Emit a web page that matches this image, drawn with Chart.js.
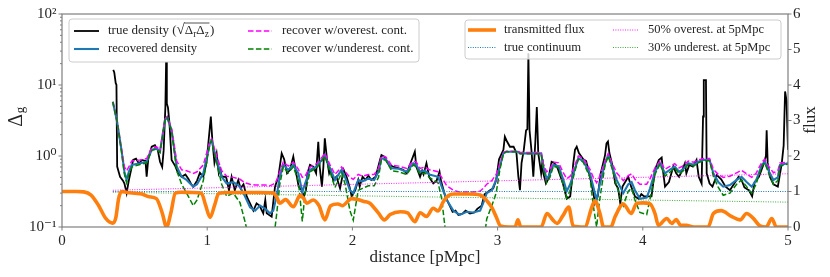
<!DOCTYPE html>
<html><head><meta charset="utf-8">
<script src="https://cdn.jsdelivr.net/npm/chart.js@4"></script>
<style>html,body{margin:0;padding:0;background:#fff}canvas{display:block}</style>
</head><body>
<canvas id="c" width="830" height="277" style="width:830px;height:277px"></canvas>
<script>
// ---------- data ----------
const trueDist = [0.353,0.36,0.37,0.375,0.38,0.39,0.40,0.42,0.43,0.445,0.46,0.48,0.49,0.51,0.53,0.55,0.575,0.583,0.595,0.618,0.64,0.66,0.675,0.69,0.70,0.712,0.717,0.722,0.73,0.74,0.755,0.78,0.80,0.824,0.85,0.87,0.89,0.904,0.93,0.95,0.973,0.995,1.01,1.025,1.035,1.05,1.065,1.08,1.09,1.10,1.13,1.15,1.168,1.19,1.214,1.23,1.25,1.272,1.295,1.318,1.34,1.36,1.386,1.40,1.41,1.444,1.467,1.49,1.50,1.513,1.53,1.55,1.57,1.593,1.605,1.63,1.65,1.665,1.68,1.69,1.708,1.73,1.75,1.765,1.775,1.79,1.80,1.81,1.825,1.84,1.85,1.868,1.89,1.915,1.94,1.96,1.98,1.995,2.02,2.04,2.05,2.07,2.09,2.11,2.13,2.16,2.19,2.20,2.22,2.25,2.28,2.31,2.35,2.374,2.40,2.43,2.44,2.466,2.48,2.49,2.51,2.53,2.557,2.58,2.60,2.61,2.64,2.67,2.69,2.71,2.73,2.76,2.78,2.81,2.84,2.86,2.89,2.91,2.948,2.97,2.99,3.01,3.04,3.05,3.065,3.085,3.11,3.13,3.143,3.154,3.165,3.18,3.196,3.205,3.212,3.22,3.235,3.246,3.26,3.27,3.28,3.30,3.31,3.315,3.333,3.35,3.372,3.39,3.41,3.45,3.476,3.50,3.51,3.52,3.533,3.545,3.56,3.59,3.61,3.636,3.66,3.67,3.69,3.71,3.74,3.75,3.76,3.77,3.79,3.81,3.83,3.845,3.86,3.90,3.92,3.946,3.97,3.99,4.01,4.04,4.06,4.084,4.11,4.13,4.14,4.153,4.18,4.21,4.23,4.25,4.27,4.29,4.30,4.32,4.345,4.37,4.385,4.405,4.415,4.42,4.435,4.44,4.46,4.48,4.51,4.54,4.57,4.60,4.63,4.66,4.68,4.70,4.73,4.753,4.77,4.80,4.83,4.848,4.853,4.86,4.875,4.90,4.93,4.957,4.97,4.98,4.99,5.0];
const trueDensity = [16.3,15,10.6,10,0.71,0.6,0.51,0.45,0.41,0.30,0.45,0.7,0.88,0.92,0.78,0.88,0.85,0.51,0.95,1.35,1.42,1.2,0.83,0.7,1.2,4.9,21,5.5,4.8,2.9,0.88,0.72,0.57,0.51,0.55,0.48,0.4,0.37,0.45,0.58,0.51,0.8,1.68,3.6,1.7,0.8,1.09,0.57,0.65,0.51,0.51,0.33,0.51,0.33,0.46,0.35,0.4,0.27,0.215,0.17,0.215,0.2,0.156,0.24,0.156,0.14,0.37,0.51,0.71,1.09,0.9,0.57,0.64,0.98,0.7,0.37,0.33,0.27,0.33,0.57,0.75,0.71,0.57,1.59,0.7,0.37,0.7,1.77,0.9,0.57,0.64,0.46,0.51,0.35,0.64,0.51,0.37,0.27,0.33,0.46,0.37,0.51,0.46,0.53,0.46,0.51,0.88,1.03,0.98,0.75,0.71,0.68,0.64,0.57,0.79,1.15,0.71,0.51,0.62,0.55,0.79,0.5,0.41,0.45,0.6,0.45,0.27,0.2,0.164,0.17,0.148,0.155,0.17,0.155,0.16,0.18,0.2,0.29,0.33,0.35,0.46,0.9,1.22,1.87,1.6,1.35,1.35,1.1,0.51,0.33,0.8,1.2,2.3,2.4,28,2.3,1.1,0.51,1.6,4.9,1.1,0.57,0.9,0.57,0.41,0.48,0.83,0.8,0.7,0.41,0.25,0.27,0.41,0.75,1.22,1.35,1.1,0.9,0.85,0.51,0.3,0.215,0.27,0.57,1.03,1.51,1.6,1.1,0.75,0.41,0.35,0.215,0.37,0.51,0.37,0.27,0.25,0.29,0.27,0.27,0.27,0.64,0.88,0.95,0.6,0.37,0.43,0.71,0.57,0.51,0.62,0.79,0.57,0.75,0.71,0.88,0.51,0.41,3.6,11.7,11.7,0.57,0.41,0.37,0.54,0.47,0.37,0.33,0.41,0.51,0.46,0.36,0.33,0.27,0.43,0.51,0.75,1.0,2.3,0.8,0.51,0.4,0.37,0.79,1.4,8.1,6,1.22];

const recDist = [0.35,0.38,0.41,0.43,0.445,0.46,0.48,0.537,0.583,0.618,0.652,0.675,0.709,0.725,0.755,0.79,0.824,0.858,0.904,0.93,0.973,1.019,1.03,1.065,1.10,1.134,1.18,1.226,1.26,1.295,1.33,1.364,1.40,1.432,1.455,1.478,1.50,1.524,1.558,1.593,1.628,1.655,1.674,1.708,1.754,1.789,1.81,1.846,1.88,1.926,1.95,1.983,2.006,2.04,2.07,2.11,2.15,2.18,2.20,2.23,2.27,2.32,2.374,2.42,2.44,2.466,2.50,2.53,2.59,2.615,2.65,2.695,2.74,2.787,2.83,2.88,2.90,2.925,2.96,2.99,3.016,3.04,3.06,3.14,3.155,3.30,3.315,3.337,3.36,3.384,3.42,3.453,3.476,3.50,3.533,3.556,3.59,3.636,3.659,3.682,3.70,3.74,3.762,3.79,3.82,3.866,3.90,3.923,3.946,3.98,4.027,4.05,4.084,4.118,4.153,4.19,4.22,4.25,4.28,4.313,4.35,4.382,4.417,4.46,4.486,4.52,4.554,4.60,4.646,4.68,4.715,4.75,4.78,4.82,4.84,4.87,4.90,4.93,4.945,5.0];
const recDensity = [5.8,3.0,1.2,0.6,0.46,0.6,0.75,0.79,0.83,1.22,1.28,1.15,3.2,3.5,2.3,0.71,0.51,0.46,0.37,0.4,0.57,1.51,1.68,0.88,0.51,0.41,0.43,0.37,0.27,0.19,0.17,0.2,0.18,0.156,0.17,0.27,0.51,0.75,0.64,0.75,0.57,0.31,0.41,0.64,0.71,0.88,1.03,0.67,0.46,0.64,0.5,0.33,0.30,0.46,0.44,0.48,0.46,0.60,0.93,0.9,0.67,0.66,0.6,0.79,0.75,0.6,0.62,0.55,0.51,0.37,0.24,0.17,0.148,0.164,0.16,0.17,0.215,0.30,0.33,0.46,0.71,1.09,1.15,1.15,1.09,1.09,0.71,0.48,0.55,0.75,0.72,0.46,0.32,0.4,0.67,0.93,0.85,0.57,0.37,0.24,0.37,0.79,1.03,0.7,0.46,0.30,0.4,0.43,0.33,0.25,0.26,0.35,0.6,0.79,0.57,0.65,0.71,0.6,0.66,0.79,0.75,0.83,0.88,0.88,0.57,0.43,0.37,0.39,0.46,0.51,0.43,0.37,0.45,0.75,0.83,0.6,0.46,0.5,0.75,0.79];
const overDensity = [5.8,3.0,1.25,0.7,0.62,0.7,0.85,0.88,0.92,1.3,1.35,1.2,3.3,3.6,2.4,0.85,0.64,0.62,0.57,0.6,0.75,1.6,1.75,1.0,0.62,0.52,0.5,0.47,0.42,0.40,0.39,0.39,0.39,0.38,0.40,0.45,0.6,0.82,0.72,0.82,0.65,0.5,0.52,0.7,0.78,0.95,1.1,0.75,0.55,0.7,0.6,0.5,0.47,0.55,0.52,0.55,0.55,0.67,1.0,0.97,0.74,0.72,0.67,0.85,0.82,0.67,0.7,0.64,0.6,0.5,0.38,0.33,0.31,0.31,0.31,0.32,0.35,0.4,0.45,0.55,0.78,1.12,1.17,1.17,1.12,1.12,0.78,0.6,0.65,0.82,0.8,0.58,0.48,0.52,0.75,1.0,0.92,0.65,0.5,0.42,0.5,0.85,1.08,0.78,0.58,0.45,0.53,0.56,0.47,0.4,0.4,0.48,0.68,0.85,0.65,0.72,0.78,0.68,0.73,0.85,0.82,0.88,0.92,0.92,0.65,0.55,0.5,0.52,0.58,0.63,0.56,0.5,0.57,0.82,0.9,0.7,0.58,0.62,0.8,0.82];
const underDensity = [5.8,3.0,1.15,0.55,0.42,0.55,0.7,0.76,0.8,1.2,1.25,1.12,3.2,3.5,2.25,0.62,0.4,0.3,0.2,0.24,0.45,1.5,1.65,0.8,0.4,0.27,0.3,0.22,0.12,0.06,0.03,0.02,0.02,0.03,0.06,0.15,0.4,0.7,0.58,0.7,0.45,0.12,0.3,0.6,0.68,0.85,1.0,0.6,0.36,0.58,0.4,0.17,0.125,0.33,0.35,0.38,0.38,0.5,0.9,0.87,0.62,0.6,0.55,0.75,0.7,0.55,0.58,0.5,0.42,0.25,0.06,0.02,0.02,0.02,0.02,0.02,0.05,0.13,0.2,0.3,0.65,1.08,1.15,1.15,1.08,1.08,0.68,0.42,0.5,0.72,0.68,0.38,0.26,0.33,0.62,0.9,0.82,0.5,0.2,0.1,0.22,0.75,1.0,0.65,0.38,0.2,0.32,0.35,0.24,0.16,0.15,0.25,0.55,0.77,0.52,0.6,0.68,0.56,0.62,0.77,0.72,0.8,0.86,0.86,0.52,0.36,0.28,0.3,0.4,0.46,0.37,0.3,0.4,0.72,0.8,0.55,0.4,0.45,0.72,0.77];

const fluxDist = [0,0.1,0.15,0.2,0.25,0.3,0.35,0.37,0.39,0.41,0.45,0.5,0.55,0.6,0.65,0.69,0.72,0.75,0.78,0.82,0.9,0.96,0.99,1.02,1.05,1.08,1.15,1.25,1.35,1.45,1.478,1.5,1.54,1.593,1.64,1.665,1.685,1.73,1.77,1.81,1.85,1.9,1.93,1.995,2.03,2.08,2.12,2.18,2.22,2.26,2.33,2.38,2.43,2.466,2.51,2.557,2.59,2.626,2.66,2.7,2.8,2.88,2.93,2.96,2.99,3.02,3.08,3.12,3.14,3.16,3.3,3.34,3.38,3.41,3.45,3.49,3.52,3.6,3.65,3.67,3.705,3.73,3.78,3.81,3.866,3.92,3.958,4.0,4.05,4.084,4.107,4.165,4.2,4.23,4.26,4.3,4.35,4.45,4.486,4.54,4.61,4.67,4.715,4.76,4.807,4.85,4.888,4.92,5.0];
const fluxVals = [1.0,1.0,0.99,0.9,0.62,0.25,0.11,0.25,0.8,1.0,0.97,0.95,0.93,0.85,0.8,0.4,0.0,0.4,0.95,0.98,0.97,0.95,0.6,0.27,0.6,0.95,0.97,0.97,0.97,0.96,0.85,0.67,0.77,0.57,0.89,0.8,0.67,0.76,0.6,0.2,0.6,0.65,0.6,0.8,0.78,0.72,0.67,0.39,0.2,0.35,0.43,0.4,0.15,0.4,0.3,0.53,0.45,0.71,0.88,0.93,0.93,0.9,0.72,0.55,0.29,0.03,0.0,0.0,0.2,0.0,0.0,0.38,0.2,0.1,0.32,0.56,0.03,0.0,0.57,0.74,0.38,0.0,0.0,0.3,0.65,0.38,0.67,0.68,0.65,0.38,0.05,0.24,0.1,0.21,0.05,0.05,0.0,0.0,0.38,0.46,0.3,0.2,0.38,0.25,0.03,0.0,0.24,0.0,0.0];

const contDist = [0.35, 5.0];
const contTrue = [1.0, 1.0];
const contOver = [1.035, 1.5];
const contUnder = [0.979, 0.7];

const xTickValues = [0,1,2,3,4,5];
const logTickValues = [0.1,1,10,100];
const logTickLabels = ['10\u207B\u00B9','10\u2070','10\u00B9','10\u00B2'];
const logMinorValues = [0.2,0.3,0.4,0.5,0.6,0.7,0.8,0.9,2,3,4,5,6,7,8,9,20,30,40,50,60,70,80,90];
const fluxTickValues = [0,1,2,3,4,5,6];

const labels = {
  trueD: 'true density', rec: 'recovered density', over: 'recover w/overest. cont.', under: 'recover w/underest. cont.',
  flux: 'transmitted flux', cTrue: 'true continuum', cOver: '50% overest. at 5pMpc', cUnder: '30% underest. at 5pMpc'
};

// ---------- styling ----------
const SERIF = '"Liberation Serif", "DejaVu Serif", serif';
const TXT = '#262626';
const SPINE = '#7f7f7f';
const C = { black:'#000000', blue:'#1f77b4', mag:'#ff00ff', green:'#008000', orange:'#ff7f0e', lgreen:'#2ca02c' };

const pts = (xs, ys) => xs.map((x, i) => ({x, y: ys[i]}));

const base = { pointRadius: 0, fill: false, clip: 0, tension: 0 };
const datasets = [
  {...base, label: labels.flux, data: pts(fluxDist, fluxVals), yAxisID: 'y2', borderColor: C.orange, borderWidth: 3.6, cubicInterpolationMode: 'monotone', order: 1},
  {...base, label: labels.cTrue, data: pts(contDist, contTrue), yAxisID: 'y2', borderColor: C.blue, borderWidth: 1, borderDash: [1,1.4], order: 2},
  {...base, label: labels.cOver, data: pts(contDist, contOver), yAxisID: 'y2', borderColor: C.mag, borderWidth: 0.9, borderDash: [1,1.4], order: 3},
  {...base, label: labels.cUnder, data: pts(contDist, contUnder), yAxisID: 'y2', borderColor: C.lgreen, borderWidth: 0.9, borderDash: [1,1.4], order: 4},
  {...base, label: labels.under, data: pts(recDist, underDensity), yAxisID: 'y', borderColor: C.green, borderWidth: 1.5, borderDash: [5.5,2.4], order: 5},
  {...base, label: labels.over, data: pts(recDist, overDensity), yAxisID: 'y', borderColor: C.mag, borderWidth: 1.5, borderDash: [5.5,2.4], order: 6},
  {...base, label: labels.rec, data: pts(recDist, recDensity), yAxisID: 'y', borderColor: C.blue, borderWidth: 2.1, order: 7},
  {...base, label: labels.trueD, data: pts(trueDist, trueDensity), yAxisID: 'y', borderColor: C.black, borderWidth: 1.8, order: 8},
];

function roundRect(ctx, x, y, w, h, r) {
  ctx.beginPath();
  ctx.moveTo(x + r, y); ctx.lineTo(x + w - r, y); ctx.quadraticCurveTo(x + w, y, x + w, y + r);
  ctx.lineTo(x + w, y + h - r); ctx.quadraticCurveTo(x + w, y + h, x + w - r, y + h);
  ctx.lineTo(x + r, y + h); ctx.quadraticCurveTo(x, y + h, x, y + h - r);
  ctx.lineTo(x, y + r); ctx.quadraticCurveTo(x, y, x + r, y); ctx.closePath();
}
function legendBox(ctx, x, y, w, h) {
  ctx.save(); roundRect(ctx, x, y, w, h, 3);
  ctx.fillStyle = 'rgba(255,255,255,0.8)'; ctx.fill();
  ctx.strokeStyle = '#cccccc'; ctx.lineWidth = 1; ctx.stroke(); ctx.restore();
}
function sample(ctx, x1, x2, y, ds) {
  ctx.save(); ctx.beginPath(); ctx.moveTo(x1, y); ctx.lineTo(x2, y);
  ctx.strokeStyle = ds.borderColor; ctx.lineWidth = ds.borderWidth; ctx.setLineDash(ds.borderDash || []);
  ctx.stroke(); ctx.restore();
}
function text(ctx, s, x, y, size) {
  ctx.font = size + 'px ' + SERIF; ctx.fillStyle = TXT; ctx.textBaseline = 'middle'; ctx.textAlign = 'left';
  ctx.fillText(s, x, y); return ctx.measureText(s).width;
}

const decor = {
  id: 'decor',
  afterDraw(chart) {
    const {ctx, chartArea: a, scales} = chart;
    const ds = l => chart.data.datasets.find(d => d.label === l);
    ctx.save();
    // ticks
    ctx.strokeStyle = SPINE; ctx.lineWidth = 1;
    ctx.beginPath();
    logTickValues.forEach(v => { const y = scales.y.getPixelForValue(v); ctx.moveTo(a.left, y); ctx.lineTo(a.left - 3.5, y); });
    logMinorValues.forEach(v => { const y = scales.y.getPixelForValue(v); ctx.moveTo(a.left, y); ctx.lineTo(a.left - 2, y); });
    xTickValues.forEach(v => { const x = scales.x.getPixelForValue(v); ctx.moveTo(x, a.bottom); ctx.lineTo(x, a.bottom + 3.5); });
    fluxTickValues.forEach(v => { const y = scales.y2.getPixelForValue(v); ctx.moveTo(a.right, y); ctx.lineTo(a.right + 3.5, y); });
    ctx.stroke();
    // frame
    ctx.lineWidth = 1.2;
    ctx.strokeRect(a.left, a.top, a.right - a.left, a.bottom - a.top);

    // left legend
    const LF = 13;
    legendBox(ctx, 69, 19, 350, 43);
    let r1 = 31, r2 = 49;
    sample(ctx, 74, 99, r1, ds(labels.trueD));
    sample(ctx, 74, 99, r2, ds(labels.rec));
    sample(ctx, 248, 272, r1, ds(labels.over));
    sample(ctx, 248, 272, r2, ds(labels.under));
    // rich text: true density (sqrt(Δ_r Δ_z))
    let x = 108;
    x += text(ctx, labels.trueD + ' (', x, r1, LF);
    x += text(ctx, '\u221A', x, r1 - 1, LF + 2);
    const ov0 = x;
    x += text(ctx, '\u0394', x, r1, LF);
    x += text(ctx, 'r', x, r1 + 3, 9.5);
    x += text(ctx, '\u0394', x, r1, LF);
    x += text(ctx, 'z', x, r1 + 3, 9.5);
    ctx.beginPath(); ctx.strokeStyle = TXT; ctx.lineWidth = 0.8; ctx.moveTo(ov0 - 0.5, r1 - 8); ctx.lineTo(x + 0.5, r1 - 8); ctx.stroke();
    x += 1;
    text(ctx, ')', x, r1, LF);
    text(ctx, labels.rec, 108, r2, 12.6);
    text(ctx, labels.over, 282, r1, LF);
    text(ctx, labels.under, 282, r2, LF);

    // right legend
    const RF = 12.7;
    legendBox(ctx, 465, 20, 316, 39);
    r1 = 30; r2 = 47.5;
    sample(ctx, 468, 496, r1, ds(labels.flux));
    sample(ctx, 468, 496, r2, ds(labels.cTrue));
    sample(ctx, 613, 639, r1, ds(labels.cOver));
    sample(ctx, 613, 639, r2, ds(labels.cUnder));
    text(ctx, labels.flux, 504, r1, RF);
    text(ctx, labels.cTrue, 504, r2, RF);
    text(ctx, labels.cOver, 648, r1, 12.5);
    text(ctx, labels.cUnder, 648, r2, 12.5);

    // y axis titles
    ctx.save(); ctx.translate(17, 117); ctx.rotate(-Math.PI / 2);
    ctx.font = '20px ' + SERIF; ctx.fillStyle = TXT; ctx.textBaseline = 'middle';
    const wD = ctx.measureText('\u0394').width;
    ctx.font = '13px ' + SERIF; const wg = ctx.measureText('g').width;
    let sx = -(wD + wg) / 2;
    ctx.font = '20px ' + SERIF; ctx.fillText('\u0394', sx, 0);
    ctx.font = '13px ' + SERIF; ctx.fillText('g', sx + wD + 0.5, 4);
    ctx.restore();
    ctx.save(); ctx.translate(811, 120); ctx.rotate(-Math.PI / 2);
    ctx.font = '17px ' + SERIF; ctx.fillStyle = TXT; ctx.textBaseline = 'middle'; ctx.textAlign = 'center';
    ctx.fillText('flux', 0, 0);
    ctx.restore();
    ctx.restore();
  }
};

const tickFont = { family: SERIF, size: 15 };
new Chart(document.getElementById('c'), {
  type: 'line',
  data: { datasets },
  options: {
    responsive: false, animation: false, devicePixelRatio: 1,
    layout: { padding: { top: 14, left: 0, right: 0, bottom: 0 } },
    plugins: { legend: { display: false }, tooltip: { enabled: false } },
    scales: {
      x: {
        type: 'linear', min: 0, max: 5, position: 'bottom',
        afterBuildTicks: s => { s.ticks = xTickValues.map(v => ({value: v})); },
        ticks: { font: tickFont, color: TXT, padding: 1, maxRotation: 0, autoSkip: false, callback: v => String(v) },
        grid: { display: false, drawTicks: true, tickLength: 4 },
        border: { display: false },
        title: { display: true, text: 'distance [pMpc]', font: { family: SERIF, size: 17 }, color: TXT, padding: { top: 0, bottom: 9 } },
        afterFit: s => { s.height = 50; }
      },
      y: {
        type: 'logarithmic', position: 'left', min: 0.1, max: 100,
        afterBuildTicks: s => { s.ticks = logTickValues.map(v => ({value: v, major: true})); },
        ticks: { font: tickFont, color: TXT, padding: 1.5, autoSkip: false, callback: v => logTickLabels[logTickValues.indexOf(v)] ?? '' },
        grid: { display: false, drawTicks: true, tickLength: 4 },
        border: { display: false },
        afterFit: s => { s.width = 62; }
      },
      y2: {
        type: 'linear', position: 'right', min: 0, max: 6,
        afterBuildTicks: s => { s.ticks = fluxTickValues.map(v => ({value: v})); },
        ticks: { font: tickFont, color: TXT, padding: 1.5, autoSkip: false, callback: v => String(v) },
        grid: { display: false, drawTicks: true, tickLength: 3.5 },
        border: { display: false },
        afterFit: s => { s.width = 42; }
      }
    }
  },
  plugins: [decor]
});
</script></body></html>
